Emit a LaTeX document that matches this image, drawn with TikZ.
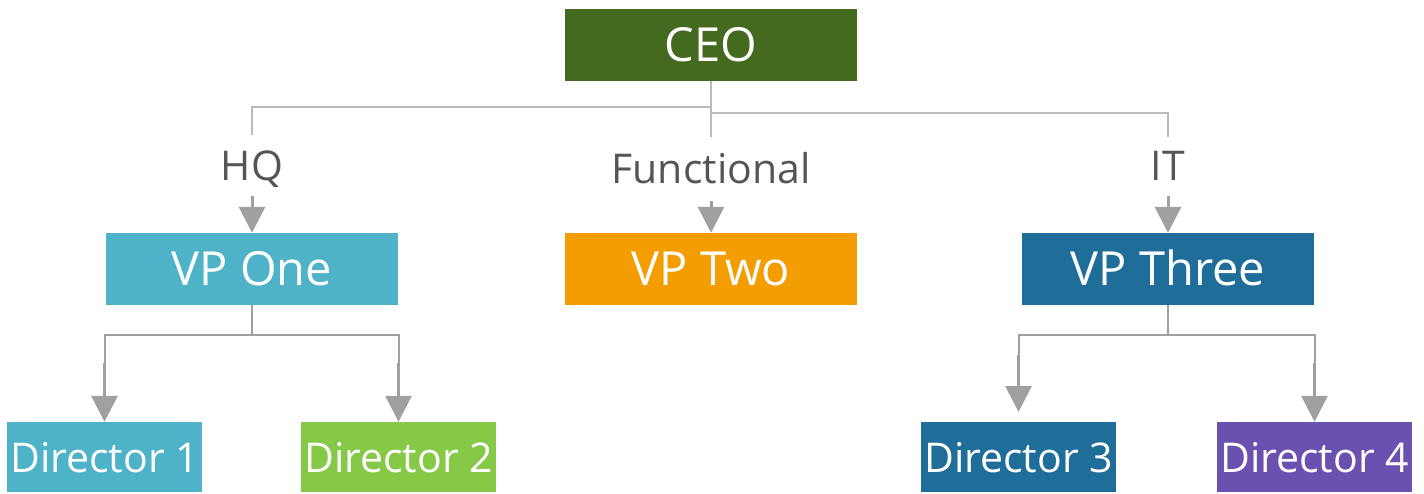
\documentclass[tikz,border=0pt]{standalone}
\usepackage{fontspec}
\setmainfont{Open Sans}
\usetikzlibrary{arrows.meta}
\definecolor{ceoC}{HTML}{436A1F}
\definecolor{tealC}{HTML}{4EB3C8}
\definecolor{orangeC}{HTML}{F39D00}
\definecolor{blueC}{HTML}{1F6E9A}
\definecolor{greenC}{HTML}{86C946}
\definecolor{purpleC}{HTML}{6A51B0}
\definecolor{lineC}{HTML}{BBBBBB}
\definecolor{arrowC}{HTML}{A0A0A0}
\definecolor{labelC}{HTML}{555555}
\begin{document}
\begin{tikzpicture}[x=1pt,y=-1pt,
  box/.style={rectangle,inner sep=0pt,text=white},
  bigbox/.style={box,minimum width=292pt,minimum height=72pt,
    font=\fontsize{47}{47}\selectfont,text height=32pt,text depth=0pt},
  dirbox/.style={box,minimum width=195pt,minimum height=70pt,
    font=\fontsize{41}{41}\selectfont,text height=30pt,text depth=0pt},
  lbl/.style={inner sep=0pt,text=labelC,font=\fontsize{41}{41}\selectfont,anchor=base},
  conn/.style={draw=lineC,line width=2pt},
  arr/.style={draw=arrowC,line width=3pt,-{Triangle[width=26pt,length=26pt]}}]
\useasboundingbox (0,0) rectangle (1424,493);
% boxes
\node[bigbox,fill=ceoC] (ceo) at (711,45) {CEO};
\node[bigbox,fill=tealC] (vp1) at (252,269) {VP One};
\node[bigbox,fill=orangeC] (vp2) at (711,269) {VP Two};
\node[bigbox,fill=blueC] (vp3) at (1168,269) {VP Three};
\node[dirbox,fill=tealC] (d1) at (104.5,457) {Director 1};
\node[dirbox,fill=greenC] (d2) at (398.5,457) {Director 2};
\node[dirbox,fill=blueC] (d3) at (1018.5,457) {Director 3};
\node[dirbox,fill=purpleC] (d4) at (1314.5,457) {Director 4};
% labels
\node[lbl] (hq) at (252,180) {HQ};
\node[lbl] (fn) at (711,183) {Functional};
\node[lbl] (it) at (1168,180) {IT};
% top connectors
\coordinate (ceoL) at (711,107);
\coordinate (ceoR) at (711,113);
\coordinate (hqT) at (252,135);
\coordinate (fnT) at (711,137);
\coordinate (itT) at (1168,137);
\draw[conn] (ceo.south) -- (fnT);
\draw[conn] (ceoL) -| (hqT);
\draw[conn] (ceoR) -| (itT);
% label arrows
\coordinate (hqB) at (252,196);
\coordinate (fnB) at (711,201);
\coordinate (itB) at (1168,196);
\draw[arr] (hqB) -- (vp1.north);
\draw[arr] (fnB) -- (vp2.north);
\draw[arr] (itB) -- (vp3.north);
% lower connectors VP One
\coordinate (v1m) at (252,335);
\coordinate (d1s) at (104.5,363);
\coordinate (d2s) at (398.5,363);
\draw[conn,draw=arrowC] (vp1.south) -- (v1m);
\draw[conn,draw=arrowC] (d1s) |- (v1m) -| (d2s);
\draw[arr] (d1s) -- (d1.north);
\draw[arr] (d2s) -- (d2.north);
% lower connectors VP Three
\coordinate (v3m) at (1168,335);
\coordinate (d3s) at (1018.5,355);
\coordinate (d4s) at (1314.5,363);
\coordinate (d3e) at (1018.5,412);
\draw[conn,draw=arrowC] (vp3.south) -- (v3m);
\draw[conn,draw=arrowC] (d3s) |- (v3m) -| (d4s);
\draw[arr] (d3s) -- (d3e);
\draw[arr] (d4s) -- (d4.north);
\end{tikzpicture}
\end{document}
